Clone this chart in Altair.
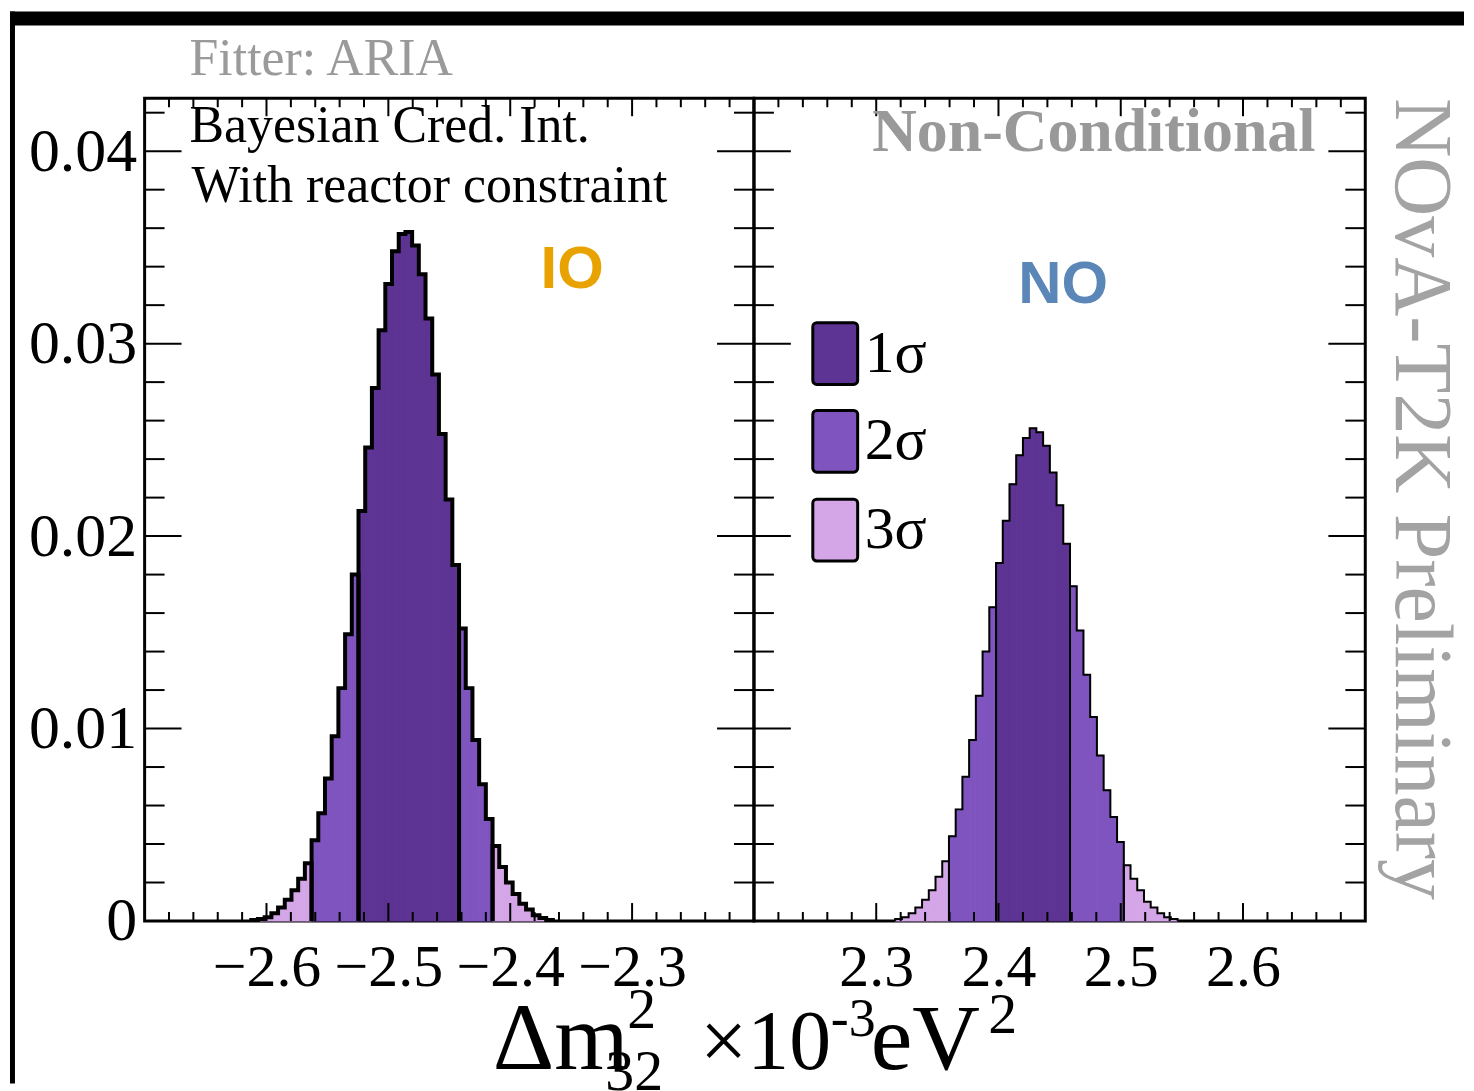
import altair as alt
import pandas as pd

SERIF = "Liberation Serif"
SANS = "Liberation Sans"

# ---------------- data ----------------
BIN_WIDTH = 0.0055
SIGMA_LEVELS = ["1σ", "2σ", "3σ"]
SIGMA_COLORS = ["#5d3393", "#7f54bf", "#d4a6e8"]

# Inverted ordering (left panel): consecutive bins starting at IO_FIRST_EDGE
IO_FIRST_EDGE = -2.6125
IO_HEIGHTS = [0.00005, 0.0001, 0.0002, 0.0004, 0.0007, 0.0011, 0.0016, 0.0022, 0.0030,
              0.0042, 0.0056, 0.0074, 0.0096, 0.0121, 0.0149, 0.0180,
              0.0213, 0.0246, 0.0277, 0.0307, 0.0331, 0.0348, 0.0357, 0.0358, 0.0351,
              0.0336, 0.0313, 0.0284, 0.0253, 0.0219, 0.0185,
              0.0152, 0.0121, 0.0094, 0.0071, 0.0053,
              0.0039, 0.0028, 0.0020, 0.0014, 0.0009, 0.0006, 0.0003, 0.00015, 0.00005]
IO_SIGMA = ["3σ"] * 9 + ["2σ"] * 7 + ["1σ"] * 15 + ["2σ"] * 5 + ["3σ"] * 9

# Normal ordering (right panel)
NO_FIRST_EDGE = 2.3155
NO_HEIGHTS = [0.0001, 0.0002, 0.0004, 0.0007, 0.0011, 0.0016, 0.0023, 0.0031,
              0.0044, 0.0058, 0.0075, 0.0094, 0.0117, 0.0140, 0.0163,
              0.0186, 0.0208, 0.0227, 0.0242, 0.0251, 0.0256, 0.0254, 0.0247, 0.0233,
              0.0216, 0.0196,
              0.0174, 0.0151, 0.0128, 0.0106, 0.0086, 0.0068, 0.0054, 0.0041,
              0.0029, 0.0022, 0.0016, 0.0010, 0.0007, 0.0004, 0.0002, 0.0001]
NO_SIGMA = ["3σ"] * 8 + ["2σ"] * 7 + ["1σ"] * 11 + ["2σ"] * 8 + ["3σ"] * 8

LEFT_DOMAIN = [-2.7, -2.2]
RIGHT_DOMAIN = [2.2, 2.7]
Y_TOP = 0.04275
LEFT_TICK_LABELS = [-2.6, -2.5, -2.4, -2.3]
RIGHT_TICK_LABELS = [2.3, 2.4, 2.5, 2.6]
Y_TICK_LABELS = [0, 0.01, 0.02, 0.03, 0.04]
Y_MINOR = [round(0.002 * i, 3) for i in range(1, 22) if i % 5 != 0]

W_L, W_R, H = 611, 613, 825

color_scale = alt.Scale(domain=SIGMA_LEVELS, range=SIGMA_COLORS)
y_scale = alt.Scale(domain=[0, Y_TOP], nice=False, zero=False)


def hist_frames(first_edge, heights, sigmas):
    rows = []
    for i, (h, s) in enumerate(zip(heights, sigmas)):
        x0 = first_edge + i * BIN_WIDTH
        rows.append(dict(x=x0, xe=x0 + BIN_WIDTH, y=h, zero=0.0, sigma=s))
    rect_df = pd.DataFrame(rows)
    line_rows = []
    n = len(heights)
    i, seg = 0, 0
    while i < n:
        j = i
        while j + 1 < n and sigmas[j + 1] == sigmas[i]:
            j += 1
        e = [first_edge + k * BIN_WIDTH for k in range(i, j + 2)]
        pts = [(e[0], 0.0)] + [(e[k - i], heights[k]) for k in range(i, j + 1)]
        pts += [(e[-1], heights[j]), (e[-1], 0.0)]
        for o, (px, py) in enumerate(pts):
            line_rows.append(dict(seg=seg, o=o, x=px, y=py))
        seg += 1
        i = j + 1
    return rect_df, pd.DataFrame(line_rows)


def txt(text, x, y, size, color="black", font=SERIF, weight="normal",
        align="left", baseline="alphabetic", angle=0):
    return alt.Chart(alt.Data(values=[{}])).mark_text(
        text=text, fontSize=size, font=font, fontWeight=weight, color=color,
        align=align, baseline=baseline, angle=angle
    ).encode(x=alt.value(x), y=alt.value(y))


def panel(first_edge, heights, sigmas, domain, tick_labels, width, line_w, show_y):
    x_scale = alt.Scale(domain=domain, nice=False, zero=False)
    x_axis = alt.Axis(values=tick_labels, format=".1f", title=None, grid=False,
                      ticks=False, tickSize=0, domain=False, labelFont=SERIF,
                      labelFontSize=60, labelColor="black", labelPadding=18,
                      labelFlush=False, labelOverlap=False)
    if show_y:
        y_axis = alt.Axis(values=Y_TICK_LABELS, format="~g", title=None, grid=False,
                          ticks=False, tickSize=0, domain=False, labelFont=SERIF,
                          labelFontSize=62, labelColor="black", labelPadding=8,
                          labelFlush=False, labelOverlap=False)
    else:
        y_axis = None

    def X(f):
        return alt.X(f, scale=x_scale, axis=x_axis)

    def Y(f):
        return alt.Y(f, scale=y_scale, axis=y_axis)

    rect_df, line_df = hist_frames(first_edge, heights, sigmas)
    bars = alt.Chart(rect_df).mark_rect(strokeWidth=1).encode(
        x=X("x:Q"), x2="xe:Q", y=Y("y:Q"), y2="zero:Q",
        color=alt.Color("sigma:N", scale=color_scale, legend=None),
        stroke=alt.Stroke("sigma:N", scale=color_scale, legend=None),
    )
    outline = alt.Chart(line_df).mark_line(
        interpolate="step-after", color="black", strokeWidth=line_w, strokeJoin="miter"
    ).encode(x=X("x:Q"), y=Y("y:Q"), detail="seg:N", order=alt.Order("o:Q"))

    layers = [bars, outline]

    # inward ticks on all four sides
    x_major = list(tick_labels)
    x_minor = [round(domain[0] + 0.02 * i, 2) for i in range(1, 25) if i % 5 != 0]
    for vals, L in ((Y_TICK_LABELS[1:], 37), (Y_MINOR, 20)):
        d = pd.DataFrame({"y": vals})
        base = alt.Chart(d).mark_rule(color="black", strokeWidth=2)
        layers.append(base.encode(y=Y("y:Q"), x=alt.value(0), x2=alt.value(L)))
        layers.append(base.encode(y=Y("y:Q"), x=alt.value(width), x2=alt.value(width - L)))
    for vals, L in ((x_major, 18), (x_minor, 9)):
        d = pd.DataFrame({"x": vals})
        base = alt.Chart(d).mark_rule(color="black", strokeWidth=2)
        layers.append(base.encode(x=X("x:Q"), y=alt.value(H), y2=alt.value(H - L)))
        layers.append(base.encode(x=X("x:Q"), y=alt.value(0), y2=alt.value(L)))
    return layers


left_layers = panel(IO_FIRST_EDGE, IO_HEIGHTS, IO_SIGMA, LEFT_DOMAIN, LEFT_TICK_LABELS,
                    W_L, 4, True)
right_layers = panel(NO_FIRST_EDGE, NO_HEIGHTS, NO_SIGMA, RIGHT_DOMAIN, RIGHT_TICK_LABELS,
                     W_R, 2, False)

# black frame bands of the original picture (top and left edges)
band_top = alt.Chart(alt.Data(values=[{}])).mark_rect(color="black").encode(
    x=alt.value(-135), x2=alt.value(1323), y=alt.value(-87), y2=alt.value(-73))
band_left = alt.Chart(alt.Data(values=[{}])).mark_rect(color="black").encode(
    x=alt.value(-135), x2=alt.value(-130), y=alt.value(-87), y2=alt.value(988))

left_text = [
    txt("Fitter: ARIA", 45, -23, 52, color="#9a9a9a"),
    txt("Bayesian Cred. Int.", 45, 44, 52),
    txt("With reactor constraint", 47, 104, 52),
    txt("IO", 397, 190, 60, color="#e8a202", font=SANS, weight="bold"),
    # x-axis title pieces
    txt("Δm", 349, 973, 96),
    txt("2", 484, 932, 58),
    txt("32", 462, 994, 58),
    txt("×10", 557, 973, 84),
    txt("-3", 688, 940, 54),
    txt("eV", 728, 973, 94),
    txt("2", 846, 937, 58),
]

right_text = [
    txt("Non-Conditional", 563, 53, 62, color="#999999", weight="bold", align="right"),
    txt("NO", 265, 205, 60, color="#5b86b8", font=SANS, weight="bold"),
    txt("NOvA-T2K Preliminary", 644, 0, 82, color="#a3a3a3", angle=90),
]
# manual legend
legend_tops = [225, 313, 402]
for lab, top in zip(SIGMA_LEVELS, legend_tops):
    box = alt.Chart(pd.DataFrame({"sigma": [lab]})).mark_rect(
        stroke="black", strokeWidth=3, cornerRadius=4
    ).encode(x=alt.value(59), x2=alt.value(104), y=alt.value(top), y2=alt.value(top + 62),
             color=alt.Color("sigma:N", scale=color_scale, legend=None))
    right_text.append(box)
    right_text.append(txt(lab, 111, top + 31, 60, baseline="middle"))

left = alt.layer(band_top, band_left, *left_layers, *left_text).properties(width=W_L, height=H)
right = alt.layer(*right_layers, *right_text).properties(width=W_R, height=H)

chart = alt.hconcat(left, right, spacing=0, bounds="flush").configure_view(
    stroke="black", strokeWidth=3
).properties(padding={"left": 0, "top": 0, "right": 0, "bottom": 0}, background="white")

chart.save("out.html", embed_options={"renderer": "svg", "actions": False})
